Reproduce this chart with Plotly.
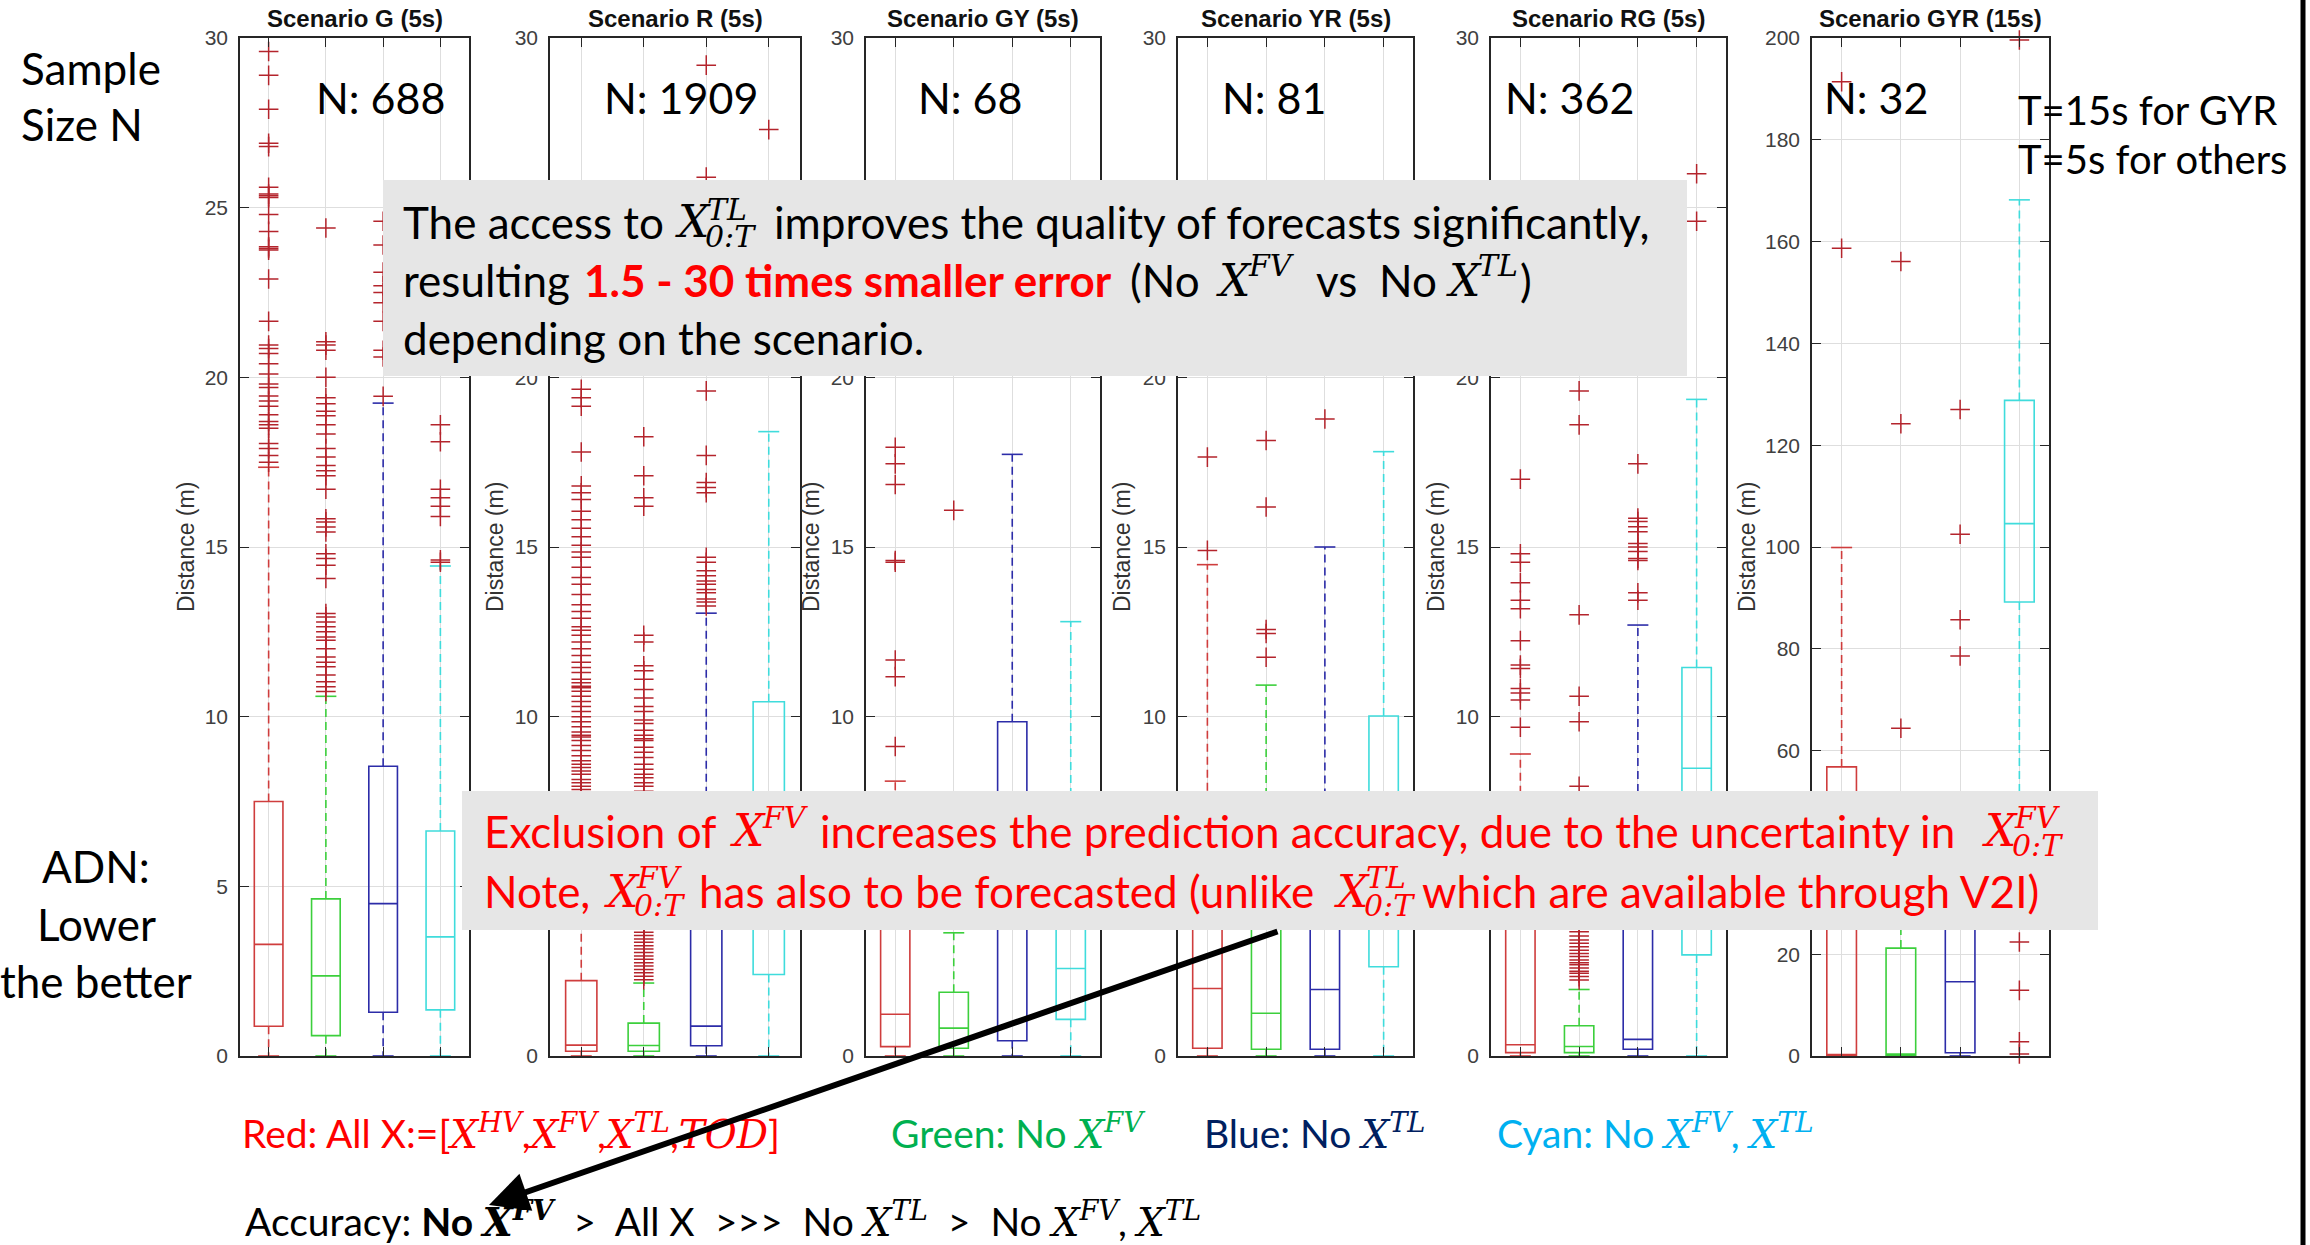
import plotly.graph_objects as go

W, H = 2310, 1245

# ---------------- data ----------------
scenarios = ["G", "R", "GY", "YR", "RG", "GYR"]
panel_titles = ["Scenario G (5s)", "Scenario R (5s)", "Scenario GY (5s)",
                "Scenario YR (5s)", "Scenario RG (5s)", "Scenario GYR (15s)"]
sample_sizes = [688, 1909, 68, 81, 362, 32]
y_limits = [30, 30, 30, 30, 30, 200]
y_steps = [5, 5, 5, 5, 5, 20]
variant_pos = [1, 2, 3, 4]

# Red: All X
allx_q1 = [0.875, 0.14, 0.275, 0.23, 0.10, 0.10]
allx_med = [3.29, 0.32, 1.23, 1.99, 0.33, 0.30]
allx_q3 = [7.50, 2.22, 4.00, 5.90, 3.90, 56.8]
allx_wlo = [0, 0, 0, 0, 0, 0]
allx_whi = [17.35, 5.30, 8.10, 14.48, 8.90, 99.9]
allx_out = [
    [29.6, 28.9, 27.9, 26.9, 26.8, 25.6, 25.4, 25.35, 25.3, 24.8, 24.3, 23.85, 23.8, 23.75,
     22.9, 21.65, 20.95, 20.85, 20.7, 20.4, 20.1, 19.8, 19.7, 19.45, 19.3, 19.15, 18.9,
     18.7, 18.6, 18.5, 18.05, 17.9, 17.7, 17.5],
    [19.65, 19.4, 19.15, 17.8, 16.8, 16.6, 16.4, 16.05, 15.8, 15.55, 15.3, 15.05, 14.85, 14.7,
     14.4, 14.1, 13.9, 13.6, 13.3, 13.1, 12.9, 12.65, 12.55, 12.4, 12.2, 12.0, 11.8, 11.6,
     11.45, 11.3, 11.1, 11.0, 10.9, 10.85, 10.75, 10.6, 10.45, 10.3, 10.15, 10.0, 9.85, 9.7,
     9.55, 9.45, 9.4, 9.3, 9.15, 9.0, 8.85, 8.7, 8.6, 8.5, 8.4, 8.3, 8.15, 8.05, 7.95, 7.85,
     7.75, 7.6, 7.45, 7.3, 7.15, 7.0, 6.85, 6.7, 6.55, 6.4, 6.25, 6.1, 5.95, 5.8, 5.65, 5.5, 5.4],
    [17.94, 17.45, 16.84, 14.6, 14.55, 11.67, 11.18, 9.12],
    [17.65, 14.9],
    [17.0, 14.8, 14.55, 13.95, 13.43, 13.18, 12.24, 11.52, 11.42, 10.83, 10.7, 10.49, 9.69],
    [191.4, 158.7],
]

# Green: No X^FV
nofv_q1 = [0.60, 0.14, 0.23, 0.20, 0.10, 0.10]
nofv_med = [2.36, 0.31, 0.82, 1.26, 0.28, 0.40]
nofv_q3 = [4.63, 0.97, 1.88, 4.60, 0.89, 21.2]
nofv_wlo = [0, 0, 0, 0, 0, 0]
nofv_whi = [10.6, 2.15, 3.63, 10.93, 1.96, 40.0]
nofv_out = [
    [24.4, 21.05, 20.95, 20.8, 20.0, 19.4, 19.22, 19.0, 18.87, 18.6, 18.33, 17.9, 17.65, 17.4,
     17.25, 17.1, 16.7, 15.83, 15.74, 15.59, 15.44, 14.8, 14.66, 14.46, 14.07, 13.04, 12.94,
     12.79, 12.65, 12.5, 12.35, 12.25, 12.0, 11.76, 11.6, 11.47, 11.23, 11.03, 10.88, 10.74],
    [18.25, 17.1, 16.45, 16.2, 12.4, 12.2, 11.5, 11.35, 11.1, 10.8, 10.55, 10.3, 10.15, 9.9,
     9.8, 9.6, 9.45, 9.35, 9.3, 9.1, 8.95, 8.8, 8.6, 8.45, 8.3, 8.2, 8.05, 7.95, 7.8, 7.6, 7.4,
     7.2, 7.0, 6.8, 6.6, 6.4, 6.2, 6.0, 5.8, 5.6, 5.4, 5.2, 5.0, 4.8, 4.6, 4.4, 4.2, 4.05, 3.95,
     3.85, 3.75, 3.65, 3.55, 3.45, 3.35, 3.25, 3.15, 3.05, 2.95, 2.85, 2.75, 2.65, 2.55, 2.45,
     2.35, 2.25],
    [16.08],
    [18.14, 16.18, 12.57, 12.45, 11.75],
    [19.6, 18.6, 13.0, 10.6, 9.85, 7.95, 6.3, 5.4, 4.6, 4.1, 3.66, 3.54, 3.42, 3.32, 3.22, 3.12,
     3.02, 2.93, 2.83, 2.75, 2.69, 2.59, 2.5, 2.44, 2.34, 2.24],
    [156.1, 124.2, 64.4],
]

# Blue: No X^TL
notl_q1 = [1.29, 0.30, 0.45, 0.20, 0.20, 0.65]
notl_med = [4.49, 0.88, 5.00, 1.96, 0.49, 14.6]
notl_q3 = [8.54, 5.40, 9.85, 6.50, 5.10, 38.0]
notl_wlo = [0, 0, 0, 0, 0, 0]
notl_whi = [19.24, 13.05, 17.73, 15.0, 12.7, 50.0]
notl_out = [
    [24.6, 23.9, 23.1, 22.7, 22.5, 22.2, 21.65, 20.8, 20.6, 19.44],
    [29.2, 25.9, 19.6, 17.7, 16.9, 16.75, 16.6, 14.7, 14.55, 14.3, 14.15, 14.0, 13.9, 13.75,
     13.65, 13.47, 13.38, 13.26],
    [],
    [18.77],
    [17.45, 15.85, 15.75, 15.6, 15.45, 15.1, 15.0, 14.87, 14.66, 14.6, 13.65, 13.43],
    [127.0, 102.5, 85.7, 78.6],
]

# Cyan: No X^FV, X^TL
none_q1 = [1.36, 2.40, 1.08, 2.63, 2.98, 89.2]
none_med = [3.51, 5.60, 2.58, 5.50, 8.48, 104.6]
none_q3 = [6.63, 10.44, 4.60, 10.02, 11.45, 128.8]
none_wlo = [0, 0, 0, 0, 0, 27.0]
none_whi = [14.44, 18.4, 12.8, 17.81, 19.35, 168.2]
none_out = [
    [18.6, 18.1, 16.7, 16.45, 16.2, 15.9, 14.62, 14.55],
    [27.3],
    [],
    [],
    [26.0, 24.6],
    [199.6, 22.4, 12.9, 2.8, 0.4],
]

# ---------------- style ----------------
C_RED, C_GREEN, C_BLUE, C_CYAN = "#cf3d3d", "#3ccf3c", "#2c2ca8", "#3fdcdc"
C_OUT = "#b4242c"
TXT = "Lato, 'Open Sans', sans-serif"
AX_FONT = "'Liberation Sans', Arial, sans-serif"
MATH = "DejaVu Serif"

panel_px = [(240, 469), (550, 800), (866, 1100), (1178, 1413), (1491, 1726), (1812, 2049)]
plot_top, plot_bottom = 38, 1056
ylabel_px = [186, 495, 811, 1122, 1436, 1747]
n_label_px = [(380, "center"), (681, "center"), (970, "center"), (1274, "center"),
              (1503, "left"), (1822, "left")]

variants = [
    (allx_q1, allx_med, allx_q3, allx_wlo, allx_whi, allx_out, C_RED),
    (nofv_q1, nofv_med, nofv_q3, nofv_wlo, nofv_whi, nofv_out, C_GREEN),
    (notl_q1, notl_med, notl_q3, notl_wlo, notl_whi, notl_out, C_BLUE),
    (none_q1, none_med, none_q3, none_wlo, none_whi, none_out, C_CYAN),
]

fig = go.Figure()

for i, sc in enumerate(scenarios):
    xa = "x" if i == 0 else f"x{i+1}"
    ya = "y" if i == 0 else f"y{i+1}"
    for vi, (q1, med, q3, wlo, whi, outs, col) in enumerate(variants):
        pos = variant_pos[vi]
        fig.add_trace(go.Box(
            x=[pos], q1=[q1[i]], median=[med[i]], q3=[q3[i]],
            lowerfence=[q1[i]], upperfence=[q3[i]], width=0.5, whiskerwidth=0,
            boxpoints=False, fillcolor="rgba(0,0,0,0)", line=dict(color=col, width=1.6),
            xaxis=xa, yaxis=ya, showlegend=False, hoverinfo="skip"))
        fig.add_trace(go.Scatter(
            x=[pos, pos, None, pos, pos], y=[q3[i], whi[i], None, q1[i], wlo[i]],
            mode="lines", line=dict(color=col, width=1.6, dash="8px,5px"),
            xaxis=xa, yaxis=ya, showlegend=False, hoverinfo="skip", cliponaxis=False))
        fig.add_trace(go.Scatter(
            x=[pos, pos], y=[whi[i], wlo[i]], mode="markers",
            marker=dict(symbol="line-ew", size=15, line=dict(color=col, width=1.6)),
            xaxis=xa, yaxis=ya, showlegend=False, hoverinfo="skip", cliponaxis=False))
        if outs[i]:
            fig.add_trace(go.Scatter(
                x=[pos] * len(outs[i]), y=outs[i], mode="markers",
                marker=dict(symbol="cross-thin", size=14, line=dict(color=C_OUT, width=1.5)),
                xaxis=xa, yaxis=ya, showlegend=False, hoverinfo="skip", cliponaxis=False))

layout = dict(width=W, height=H, margin=dict(l=0, r=0, t=0, b=0, pad=0, autoexpand=False),
              paper_bgcolor="white", plot_bgcolor="white", boxmode="overlay",
              showlegend=False)
ydom = [1 - plot_bottom / H, 1 - plot_top / H]
for i in range(6):
    sx = "" if i == 0 else str(i + 1)
    x0, x1 = panel_px[i]
    layout["xaxis" + sx] = dict(
        domain=[x0 / W, x1 / W], range=[0.5, 4.5], tickvals=variant_pos, showticklabels=False,
        ticks="inside", ticklen=9, tickwidth=1.3, tickcolor="#262626", automargin=False,
        showgrid=True, gridcolor="#dedede", gridwidth=1, zeroline=False,
        showline=True, linecolor="#262626", linewidth=1.5, mirror="ticks",
        anchor="y" + sx, fixedrange=True)
    ymax = y_limits[i]
    layout["yaxis" + sx] = dict(
        domain=ydom, range=[0, ymax], tickvals=list(range(0, ymax + 1, y_steps[i])),
        ticks="inside", ticklen=9, tickwidth=1.3, tickcolor="#262626", automargin=False,
        tickfont=dict(family=AX_FONT, size=21, color="#404040"), ticklabelstandoff=6,
        showgrid=True, gridcolor="#dedede", gridwidth=1, zeroline=False,
        showline=True, linecolor="#262626", linewidth=1.5, mirror="ticks",
        anchor="x" + sx, fixedrange=True)


def P(px, py):
    return px / W, 1 - py / H


def T(text, px, py, size, color="#000000", family=TXT, xanchor="left", yanchor="middle",
      angle=0):
    x, y = P(px, py)
    return dict(text=text, x=x, y=y, xref="paper", yref="paper", xanchor=xanchor,
                yanchor=yanchor, showarrow=False, textangle=angle,
                font=dict(family=family, size=size, color=color))


def mx(s):
    return f"<span style='font-family:{MATH}'><i>{s}</i></span>"


def msup(base, sup):
    return mx(base) + "<sup>" + mx(sup) + "</sup>"


anns = []
for i in range(6):
    x0, x1 = panel_px[i]
    anns.append(T(f"<b>{panel_titles[i]}</b>", (x0 + x1) / 2, 19, 24, "#111111", AX_FONT, "center"))
    anns.append(T("Distance (m)", ylabel_px[i], (plot_top + plot_bottom) / 2, 23, "#333333",
                  AX_FONT, "center", angle=-90))
    nx, anc = n_label_px[i]
    anns.append(T(f"N: {sample_sizes[i]}", nx, 97, 43, "#000000", TXT, anc))

anns.append(T("Sample", 19, 68, 44))
anns.append(T("Size N", 19, 124, 44))
anns.append(T("ADN:", 96, 866, 44, xanchor="center"))
anns.append(T("Lower", 96, 924, 44, xanchor="center"))
anns.append(T("the better", 96, 981, 44, xanchor="center"))
anns.append(T("T=15s for GYR", 2016, 110, 40))
anns.append(T("T=5s for others", 2016, 159, 40))

S1 = 44
MXS = 44
SUP = 30
# box 1 text
anns.append(T("The access to", 401, 222, S1))
anns.append(T(mx("X"), 673, 222, MXS, family=MATH))
anns.append(T(mx("TL"), 705, 209, SUP, family=MATH))
anns.append(T(mx("0:T"), 703, 236, SUP, family=MATH))
anns.append(T("improves the quality of forecasts significantly,", 772, 222, S1))
anns.append(T("resulting", 401, 280, S1))
anns.append(T("<b>1.5 - 30 times smaller error</b>", 582, 280, S1, "#ff0000"))
anns.append(T("(No", 1128, 280, S1))
anns.append(T(mx("X"), 1214, 280, MXS, family=MATH))
anns.append(T(mx("FV"), 1246, 266, SUP, family=MATH))
anns.append(T("vs", 1314, 280, S1))
anns.append(T("No", 1377, 280, S1))
anns.append(T(mx("X"), 1444, 280, MXS, family=MATH))
anns.append(T(mx("TL"), 1476, 266, SUP, family=MATH))
anns.append(T(")", 1518, 280, S1))
anns.append(T("depending on the scenario.", 401, 338, S1))

# box 2 text (red)
S2 = 44
R = "#ff0000"
anns.append(T("Exclusion of", 482, 831, S2, R))
anns.append(T(mx("X"), 728, 831, MXS, R, MATH))
anns.append(T(mx("FV"), 760, 817, SUP, R, MATH))
anns.append(T("increases the prediction accuracy, due to the uncertainty in", 818, 831, S2, R))
anns.append(T(mx("X"), 1980, 831, MXS, R, MATH))
anns.append(T(mx("FV"), 2012, 817, SUP, R, MATH))
anns.append(T(mx("0:T"), 2010, 845, SUP, R, MATH))
anns.append(T("Note,", 482, 891, S2, R))
anns.append(T(mx("X"), 602, 891, MXS, R, MATH))
anns.append(T(mx("FV"), 634, 877, SUP, R, MATH))
anns.append(T(mx("0:T"), 632, 905, SUP, R, MATH))
anns.append(T("has also to be forecasted (unlike", 697, 891, S2, R))
anns.append(T(mx("X"), 1332, 891, MXS, R, MATH))
anns.append(T(mx("TL"), 1364, 877, SUP, R, MATH))
anns.append(T(mx("0:T"), 1362, 905, SUP, R, MATH))
anns.append(T("which are available through V2I)", 1420, 891, S2, R))

# legend lines
S3 = 39
anns.append(T("Red: All X:=[" + msup("X", "HV") + "," + msup("X", "FV") + "," + msup("X", "TL")
              + "," + mx("TOD") + "]", 240, 1132, S3, "#ff0000"))
anns.append(T("Green: No " + msup("X", "FV"), 889, 1132, S3, "#00b050"))
anns.append(T("Blue: No " + msup("X", "TL"), 1202, 1132, S3, "#002060"))
anns.append(T("Cyan: No " + msup("X", "FV") + ", " + msup("X", "TL"), 1495, 1132, S3, "#00b0f0"))
nb = "\u00a0"
anns.append(T("Accuracy: <b>No " + msup("X", "FV") + "</b>" + nb * 2 + "&gt;" + nb + " All X"
              + nb + " &gt;&gt;&gt;" + nb + " No " + msup("X", "TL") + nb + " &gt;" + nb + " No "
              + msup("X", "FV") + ", " + msup("X", "TL"), 243, 1219, S3))

# arrow
tip = (489, 1205)
tail = (1279, 931)
tx, ty = P(*tip)
anns.append(dict(x=tx, y=ty, xref="paper", yref="paper", text="", showarrow=True,
                 ax=tail[0] - tip[0], ay=tail[1] - tip[1], axref="pixel", ayref="pixel",
                 arrowhead=2, arrowsize=1.3, arrowwidth=6, arrowcolor="black", standoff=0))

layout["annotations"] = anns

shapes = []
for (x0, y0, x1, y1) in [(383, 180, 1687, 376), (462, 791, 2098, 930)]:
    a0, b0 = P(x0, y1)
    a1, b1 = P(x1, y0)
    shapes.append(dict(type="rect", xref="paper", yref="paper", x0=a0, x1=a1, y0=b0, y1=b1,
                       fillcolor="#e6e6e6", line=dict(width=0), layer="above"))
lx, _ = P(2303, 0)
shapes.append(dict(type="line", xref="paper", yref="paper", x0=lx, x1=lx, y0=0, y1=1,
                   line=dict(color="black", width=5), layer="above"))
layout["shapes"] = shapes

fig.update_layout(**layout)
fig.write_html("out.html")
